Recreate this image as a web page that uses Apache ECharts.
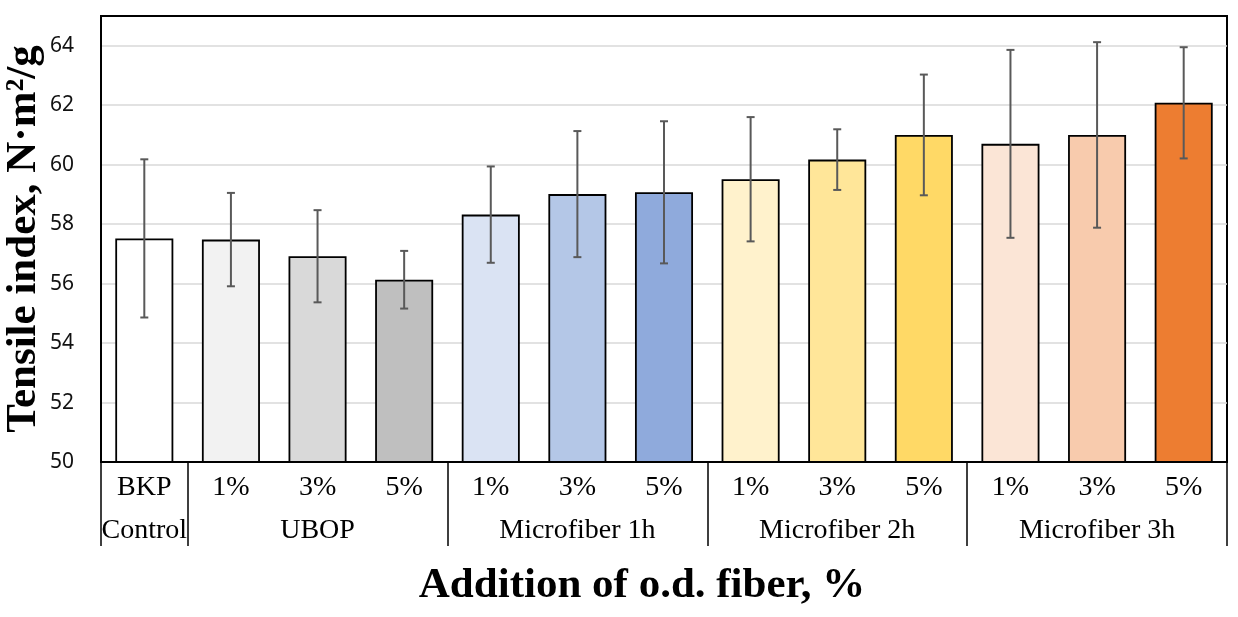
<!DOCTYPE html>
<html>
<head>
<meta charset="utf-8">
<script src="https://cdn.jsdelivr.net/npm/echarts@6/dist/echarts.min.js"></script>
<style>html,body{margin:0;padding:0;background:#fff}#c{width:1238px;height:617px}</style>
</head>
<body>
<div id="c"></div>
<script>
// ---- data ----
var levelLabels = ['BKP','1%','3%','5%','1%','3%','5%','1%','3%','5%','1%','3%','5%'];
var groupNames = ['Control','UBOP','Microfiber 1h','Microfiber 2h','Microfiber 3h'];
var groupSizes = [1,3,3,3,3];
var means = [57.52, 57.48, 56.92, 56.13, 58.32, 59.01, 59.07, 59.51, 60.17, 61.00, 60.70, 61.00, 62.08];
var sds   = [2.66, 1.57, 1.55, 0.97, 1.62, 2.12, 2.39, 2.09, 1.02, 2.03, 3.16, 3.12, 1.87];
var barColors = ['#FFFFFF','#F2F2F2','#D9D9D9','#BFBFBF','#DAE3F3','#B4C7E7','#8FAADC','#FFF2CC','#FFE699','#FFD966','#FBE5D6','#F8CBAD','#ED7D31'];
var yTicks = {min: 50, max: 65, interval: 2};
var yTitle = 'Tensile index, N\u00B7m\u00B2/g';
var xTitle = 'Addition of o.d. fiber, %';

// ---- derived ----
var groupLabelAt = [], boundaries = {};
var idx = 0;
groupSizes.forEach(function (n, g) {
  boundaries[idx] = true;
  groupLabelAt[idx + Math.floor((n - 1) / 2)] = groupNames[g];
  idx += n;
});
var catIdx = levelLabels.map(function (_, i) { return String(i); });

var serif = "'Liberation Serif','Times New Roman',serif";
var chart = echarts.init(document.getElementById('c'));
chart.setOption({
  animation: false,
  grid: {left: 101, right: 11, top: 16, bottom: 155, show: true, borderColor: '#000', borderWidth: 2,
         containLabel: false, outerBoundsMode: 'none'},
  xAxis: [{
    type: 'category', data: levelLabels,
    axisLine: {lineStyle: {color: '#000', width: 2}},
    axisTick: {show: false},
    axisLabel: {interval: 0, margin: 12, color: '#000', fontFamily: serif, fontSize: 28}
  }, {
    type: 'category', data: catIdx, position: 'bottom',
    axisLine: {show: false},
    axisTick: {show: true, length: 84, interval: function (i) { return !!boundaries[i]; }, lineStyle: {color: '#000', width: 1.5}},
    axisLabel: {interval: 0, margin: 55, color: '#000', fontFamily: serif, fontSize: 28,
      formatter: function (v, i) { return groupLabelAt[i] || ''; }}
  }],
  yAxis: {
    type: 'value', min: yTicks.min, max: yTicks.max, interval: yTicks.interval,
    name: yTitle, nameLocation: 'middle', nameGap: 56, nameMoveOverlap: false,
    nameTextStyle: {fontFamily: serif, fontWeight: 'bold', fontSize: 43, color: '#000'},
    axisLine: {show: true, lineStyle: {color: '#000', width: 2}},
    axisTick: {show: false},
    axisLabel: {showMaxLabel: false, margin: 27, color: '#111', fontFamily: "'Noto Sans',sans-serif", fontSize: 21},
    splitLine: {lineStyle: {color: ['#000','#D9D9D9','#D9D9D9','#D9D9D9','#D9D9D9','#D9D9D9','#D9D9D9','#D9D9D9','#000'], width: 1.5}}
  },
  graphic: [{
    type: 'text', x: 642, y: 586,
    style: {text: xTitle, font: "bold 43px 'Liberation Serif','Times New Roman',serif", fill: '#000',
            align: 'center', verticalAlign: 'middle'}
  }],
  series: [{
    type: 'bar', xAxisIndex: 0, barCategoryGap: '33%',
    data: means.map(function (v, i) { return {value: v, itemStyle: {color: barColors[i]}}; }),
    itemStyle: {borderColor: '#000', borderWidth: 1.8}
  }, {
    type: 'custom', xAxisIndex: 0, z: 5,
    data: means.map(function (v, i) { return [i, v - sds[i], v + sds[i]]; }),
    renderItem: function (params, api) {
      var lo = api.coord([api.value(0), api.value(1)]);
      var hi = api.coord([api.value(0), api.value(2)]);
      var c = hi[0], hw = 4;
      var st = {stroke: '#595959', lineWidth: 2};
      return {type: 'group', children: [
        {type: 'line', shape: {x1: c, y1: hi[1], x2: c, y2: lo[1]}, style: st},
        {type: 'line', shape: {x1: c - hw, y1: hi[1], x2: c + hw, y2: hi[1]}, style: st},
        {type: 'line', shape: {x1: c - hw, y1: lo[1], x2: c + hw, y2: lo[1]}, style: st}
      ]};
    }
  }]
});
</script>
</body>
</html>
